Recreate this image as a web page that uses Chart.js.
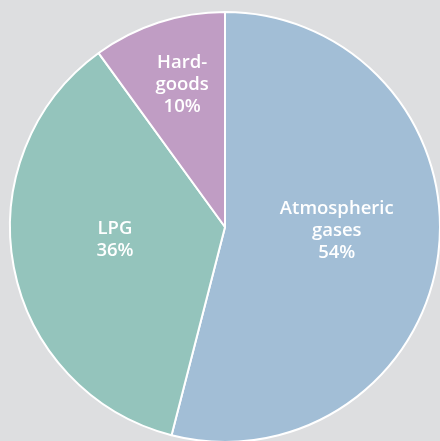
<!DOCTYPE html>
<html>
<head>
<meta charset="utf-8">
<script src="https://cdn.jsdelivr.net/npm/chart.js@4/dist/chart.umd.min.js"></script>
<style>
  html, body { margin: 0; padding: 0; background: #dddee0; overflow: hidden; }
  #wrap { width: 441px; height: 443px; }
</style>
</head>
<body>
<div id="wrap"><canvas id="pie"></canvas></div>
<script>
// data
var labels = ["Atmospheric gases", "LPG", "Hard-goods"];
var shares = [54, 36, 10];
var labelLines = [["Atmospheric", "gases", "54%"], ["LPG", "36%"], ["Hard-", "goods", "10%"]];
var colours = ["#a2bed6", "#94c4bc", "#c09dc4"];
// where each label sits: share of radius, and a small turn (degrees) off the slice middle
var labelRadius = [0.52, 0.515, 0.69];
var labelTurn = [-5.4, 4.3, 1.2];

// write the labels inside each slice
var sliceText = {
  id: 'sliceText',
  afterDatasetsDraw: function(chart) {
    var ctx = chart.ctx;
    var meta = chart.getDatasetMeta(0);
    ctx.save();
    ctx.fillStyle = '#ffffff';
    ctx.font = '600 18.5px "Open Sans"';
    ctx.textAlign = 'center';
    ctx.textBaseline = 'middle';
    meta.data.forEach(function(arc, i) {
      var p = arc.getProps(['x', 'y', 'startAngle', 'endAngle', 'outerRadius']);
      var mid = (p.startAngle + p.endAngle) / 2 + labelTurn[i] * Math.PI / 180;
      var r = p.outerRadius * labelRadius[i];
      var cx = p.x + Math.cos(mid) * r;
      var cy = p.y + Math.sin(mid) * r;
      var lines = labelLines[i];
      var lh = 22;
      var top = cy - (lines.length - 1) * lh / 2;
      lines.forEach(function(t, k) {
        ctx.fillText(t, cx, top + k * lh);
      });
    });
    ctx.restore();
  }
};

var ctx = document.getElementById('pie').getContext('2d');
var chart = new Chart(ctx, {
  type: 'pie',
  data: {
    labels: labels,
    datasets: [{
      data: shares,
      backgroundColor: colours,
      borderColor: '#ffffff',
      borderWidth: 2
    }]
  },
  options: {
    responsive: true,
    maintainAspectRatio: false,
    animation: false,
    layout: { padding: { left: 9, top: 11, right: 0, bottom: 0 } },
    plugins: {
      legend: { display: false },
      tooltip: { enabled: false }
    }
  },
  plugins: [sliceText]
});
</script>
</body>
</html>
